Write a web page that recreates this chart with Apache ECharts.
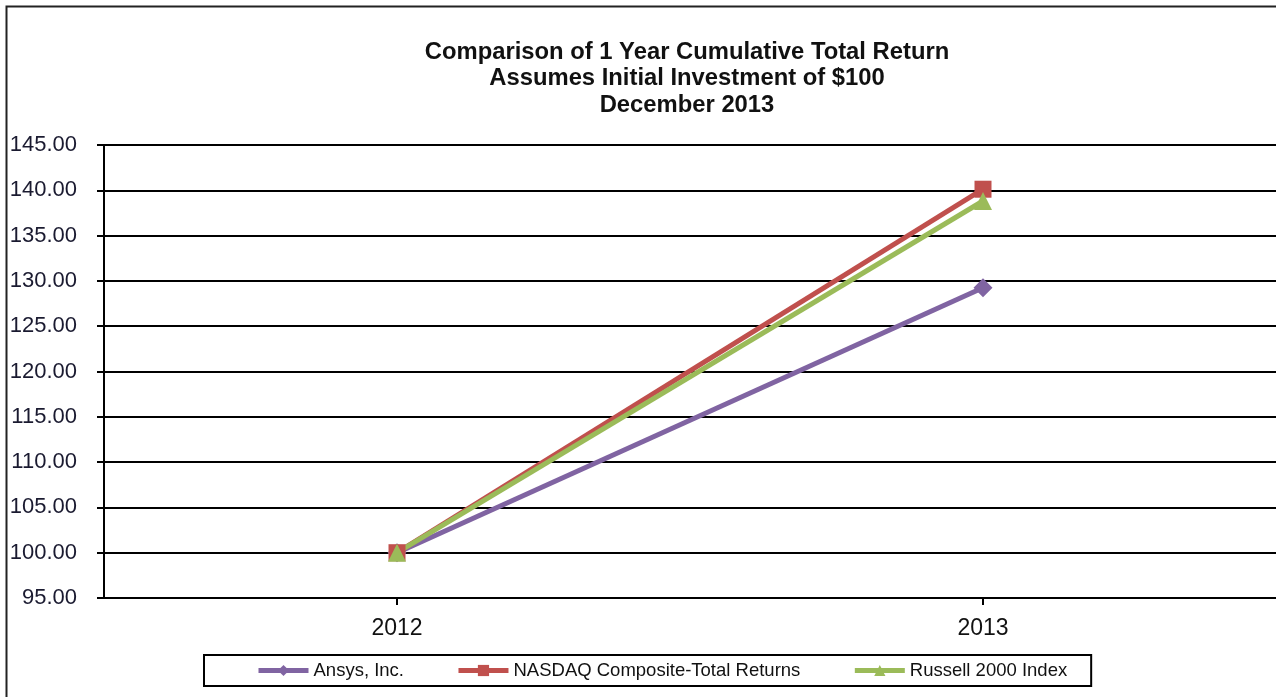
<!DOCTYPE html>
<html><head><meta charset="utf-8">
<script src="https://cdn.jsdelivr.net/npm/echarts@6/dist/echarts.min.js"></script>
<style>html,body{margin:0;padding:0;background:#fff}#c{width:1276px;height:697px}</style>
</head><body><div id="c"></div>
<script>
const categories = ['2012', '2013'];
const ansys = [100.00, 129.25];
const nasdaq = [100.00, 140.12];
const russell = [100.00, 138.82];
const yTicks = {min: 95, max: 145, interval: 5};
const titleLines = ['Comparison of 1 Year Cumulative Total Return', 'Assumes Initial Investment of $100', 'December 2013'];

const chart = echarts.init(document.getElementById('c'));
const font = 'Liberation Sans, Arial, sans-serif';
chart.setOption({
  animation: false,
  backgroundColor: '#fff',
  graphic: [{type:'rect', left: 4, top: 4, shape:{width: 1290, height: 700}, style:{fill:'none', stroke:'#222', lineWidth:2}, silent:true, z:-1}],
  title: {
    text: titleLines.join('\n'),
    left: 687, top: 39, textAlign: 'center', padding: 0,
    textStyle: {fontFamily: font, fontSize: 23.8, fontWeight: 'bold', color: '#111', lineHeight: 26.5}
  },
  grid: {left: 104, right: 0, top: 145, bottom: 99, containLabel: false},
  xAxis: {
    type: 'category', data: categories, boundaryGap: true,
    axisLine: {lineStyle: {color: '#000', width: 2}},
    axisTick: {show: true, alignWithLabel: true, length: 7, lineStyle: {color: '#000', width: 2}},
    axisLabel: {fontFamily: font, fontSize: 23, color: '#111', margin: 19},
    splitLine: {show: false}
  },
  yAxis: {
    type: 'value', min: yTicks.min, max: yTicks.max, interval: yTicks.interval,
    axisLine: {show: true, lineStyle: {color: '#000', width: 2}},
    axisTick: {show: true, length: 7, lineStyle: {color: '#000', width: 2}},
    axisLabel: {fontFamily: font, fontSize: 22, color: '#1a1a30', margin: 27, formatter: v => v.toFixed(2)},
    splitLine: {show: true, lineStyle: {color: '#000', width: 2}}
  },
  legend: {
    left: 204, top: 655,
    itemWidth: 50, itemHeight: 14, itemGap: 52,
    padding: [6, 24, 6, 52],
    borderColor: '#000', borderWidth: 2,
    lineStyle: {width: 5},
    textStyle: {fontFamily: font, fontSize: 18.5, color: '#111', padding: [0, 0, 0, 0]},
    data: ['Ansys, Inc.', 'NASDAQ Composite-Total Returns', 'Russell 2000 Index']
  },
  series: [
    {name: 'Ansys, Inc.', type: 'line', data: ansys, symbol: 'diamond', symbolSize: 19,
     lineStyle: {color: '#8064A2', width: 5}, itemStyle: {color: '#8064A2'}},
    {name: 'NASDAQ Composite-Total Returns', type: 'line', data: nasdaq, symbol: 'rect', symbolSize: 17,
     lineStyle: {color: '#C0504D', width: 5}, itemStyle: {color: '#C0504D'}},
    {name: 'Russell 2000 Index', type: 'line', data: russell, symbol: 'triangle', symbolSize: 18,
     lineStyle: {color: '#9BBB59', width: 5}, itemStyle: {color: '#9BBB59'}}
  ]
});
</script></body></html>
